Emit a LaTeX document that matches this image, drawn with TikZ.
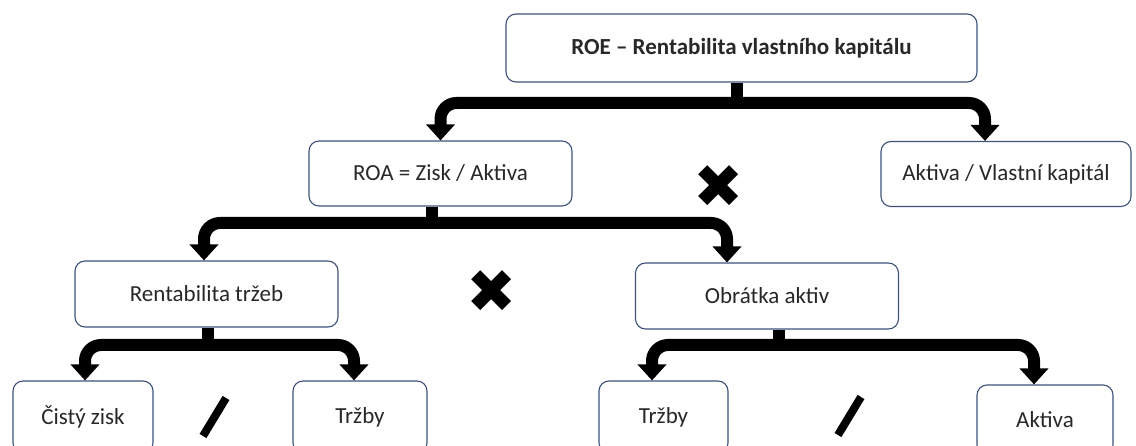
\documentclass[tikz,border=0pt]{standalone}
\usepackage{fontspec}
\setmainfont{Carlito}
\newfontfamily\symfont{DejaVu Sans}
\usetikzlibrary{arrows.meta}
\definecolor{boxline}{RGB}{62,82,122}
\definecolor{txt}{RGB}{40,40,40}
\begin{document}
\begin{tikzpicture}[x=1pt,y=-1pt,
  box/.style={draw=boxline, line width=1.1pt, rounded corners=10pt, fill=white, text=txt,
    font=\fontsize{23}{27}\selectfont, inner sep=0pt},
  stem/.style={line width=12pt},
  conn/.style={line width=12pt, rounded corners=16pt, -{Triangle[width=28pt,length=16pt]}},
  times/.style={font=\symfont\fontsize{60}{64}\selectfont, inner sep=0pt},
  slash/.style={line width=8pt}]
\useasboundingbox (0,0) rectangle (1136,446);
\clip (0,0) rectangle (1136,446);
% boxes
\node[box, minimum width=471pt, minimum height=68pt] (roe) at (741.5,48) {\bfseries ROE – Rentabilita vlastního kapitálu};
\node[box, minimum width=263pt, minimum height=65pt] (roa) at (440.5,173.5) {ROA = Zisk / Aktiva};
\node[box, minimum width=250pt, minimum height=65pt] (akvk) at (1006,174) {Aktiva / Vlastní kapitál};
\node[box, minimum width=263pt, minimum height=66pt] (rent) at (206.5,294) {Rentabilita tržeb};
\node[box, minimum width=263pt, minimum height=66pt] (obr) at (767,296) {Obrátka aktiv};
\node[box, minimum width=140pt, minimum height=72pt] (cisty) at (83,417) {Čistý zisk};
\node[box, minimum width=134pt, minimum height=72pt] (trz1) at (360,417) {Tržby};
\node[box, minimum width=129pt, minimum height=72pt] (trz2) at (663.5,417) {Tržby};
\node[box, minimum width=136pt, minimum height=70pt] (akt) at (1045,420) {Aktiva};
% junctions
\coordinate (j1) at (737,103);
\coordinate (j2) at (432,223);
\coordinate (j3) at (208,345);
\coordinate (j4) at (779,345);
% connectors
\draw[stem] (roe.south -| j1) -- (j1);
\draw[conn] (j1) -| (roa.north);
\draw[conn] (j1) -| ([xshift=-21pt]akvk.north);
\draw[stem] (roa.south -| j2) -- (j2);
\draw[conn] (j2) -| ([xshift=-2.5pt]rent.north);
\draw[conn] (j2) -| ([xshift=-40pt]obr.north);
\draw[stem] (rent.south -| j3) -- (j3);
\draw[conn] (j3) -| ([xshift=2pt]cisty.north);
\draw[conn] (j3) -| ([xshift=-6pt]trz1.north);
\draw[stem] (obr.south -| j4) -- (j4);
\draw[conn] (j4) -| ([xshift=-11.5pt]trz2.north);
\draw[conn] (j4) -| ([xshift=-11pt]akt.north);
% operators
\node[times] (x1) at (719,187) {✖};
\node[times] (x2) at (492,292) {✖};
\draw[slash] (203,436) -- (226,398);
\draw[slash] (838,435) -- (861,397);
\end{tikzpicture}
\end{document}
